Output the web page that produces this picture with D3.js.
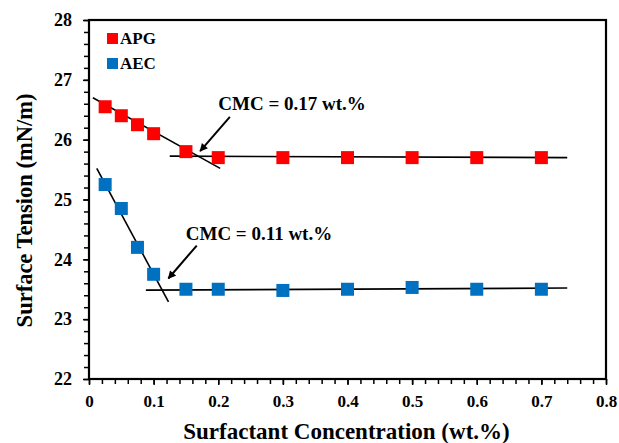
<!DOCTYPE html>
<html>
<head>
<meta charset="utf-8">
<script src="https://cdn.jsdelivr.net/npm/d3@7"></script>
<style>
  html, body { margin: 0; padding: 0; background: #fff; }
  svg { display: block; }
  text { font-family: "Liberation Serif", "Times New Roman", serif; font-weight: bold; fill: #000; }
</style>
</head>
<body>
<svg id="chart" width="619" height="443"></svg>
<script>
// Surfactant concentrations (wt.%)
const concentrations = [0.025, 0.05, 0.075, 0.1, 0.15, 0.2, 0.3, 0.4, 0.5, 0.6, 0.7];
// Surface tension (mN/m) for each surfactant
const apgValues = [26.55, 26.4, 26.25, 26.1, 25.8, 25.7, 25.7, 25.7, 25.7, 25.7, 25.7];
const aecValues = [25.25, 24.85, 24.2, 23.75, 23.5, 23.5, 23.48, 23.5, 23.53, 23.5, 23.5];
const seriesNames = ["APG", "AEC"];
const seriesColors = ["#ff0000", "#0070c0"];

// Fitted lines used to locate the CMC (pairs of [x, y] end points)
const apgSteepFit = [[0.006, 26.70], [0.203, 25.52]];
const apgFlatFit = [[0.125, 25.725], [0.74, 25.70]];
const aecSteepFit = [[0.012, 25.52], [0.123, 23.29]];
const aecFlatFit = [[0.088, 23.485], [0.74, 23.52]];

// CMC annotations: label, label anchor, arrow start, arrow tip
const cmcLabels = ["CMC = 0.17 wt.%", "CMC = 0.11 wt.%"];
const cmcLabelPos = [[0.2, 26.5], [0.1497, 24.33]];
const cmcArrowFrom = [[0.218, 26.38], [0.1667, 24.23]];
const cmcArrowTo = [[0.172, 25.81], [0.1228, 23.68]];

const xTicks = [0, 0.1, 0.2, 0.3, 0.4, 0.5, 0.6, 0.7, 0.8];
const yTicks = [22, 23, 24, 25, 26, 27, 28];

const svg = d3.select("#chart");
const margin = { left: 89, top: 20, right: 13, bottom: 64 };
const W = 619, H = 443;

const x = d3.scaleLinear().domain([0, 0.8]).range([margin.left, W - margin.right]);
const y = d3.scaleLinear().domain([22, 28]).range([H - margin.bottom, margin.top]);

// arrow marker
svg.append("defs").append("marker")
  .attr("id", "arrowhead")
  .attr("viewBox", "0 0 10 10")
  .attr("refX", 9).attr("refY", 5)
  .attr("markerWidth", 10).attr("markerHeight", 8)
  .attr("markerUnits", "userSpaceOnUse")
  .attr("orient", "auto")
  .append("path").attr("d", "M0,0 L10,5 L0,10 Z").attr("fill", "#000");

// minor ticks
const xMinor = d3.range(0, 0.8001, 0.02);
const yMinor = d3.range(22, 28.001, 0.2);

const xAxis = svg.append("g").attr("transform", `translate(0,${y(22)})`)
  .call(d3.axisBottom(x).tickValues(xMinor).tickSize(5).tickFormat(""));
xAxis.select(".domain").remove();
xAxis.selectAll("line").attr("stroke", "#000").attr("stroke-width", 1.5);

const xMajor = svg.append("g").attr("transform", `translate(0,${y(22)})`)
  .call(d3.axisBottom(x).tickValues(xTicks).tickSize(6).tickPadding(10).tickFormat(d => d === 0 ? "0" : d3.format(".1f")(d)));
xMajor.select(".domain").remove();
xMajor.selectAll("line").attr("stroke", "#000").attr("stroke-width", 1.5);
xMajor.selectAll("text").style("font-size", "17px").style("font-family", "'Liberation Serif', serif").style("font-weight", "bold").attr("fill", "#000");

const yAxis = svg.append("g").attr("transform", `translate(${x(0)},0)`)
  .call(d3.axisLeft(y).tickValues(yMinor).tickSize(5).tickFormat(""));
yAxis.select(".domain").remove();
yAxis.selectAll("line").attr("stroke", "#000").attr("stroke-width", 1.5);

const yMajor = svg.append("g").attr("transform", `translate(${x(0)},0)`)
  .call(d3.axisLeft(y).tickValues(yTicks).tickSize(6).tickPadding(11).tickFormat(d3.format("d")));
yMajor.select(".domain").remove();
yMajor.selectAll("line").attr("stroke", "#000").attr("stroke-width", 1.5);
yMajor.selectAll("text").style("font-size", "18px").style("font-family", "'Liberation Serif', serif").style("font-weight", "bold").attr("fill", "#000");

// plot frame
svg.append("rect")
  .attr("x", x(0)).attr("y", y(28))
  .attr("width", x(0.8) - x(0)).attr("height", y(22) - y(28))
  .attr("fill", "none").attr("stroke", "#000").attr("stroke-width", 2.2);

// fit lines
const line = d3.line().x(d => x(d[0])).y(d => y(d[1]));
[apgSteepFit, apgFlatFit, aecSteepFit, aecFlatFit].forEach(seg => {
  svg.append("path").attr("d", line(seg)).attr("fill", "none")
    .attr("stroke", "#000").attr("stroke-width", 1.6);
});

// data markers
const ms = 13;
[apgValues, aecValues].forEach((vals, i) => {
  svg.append("g").selectAll("rect").data(vals).join("rect")
    .attr("x", (d, j) => x(concentrations[j]) - ms / 2)
    .attr("y", d => y(d) - ms / 2)
    .attr("width", ms).attr("height", ms)
    .attr("fill", seriesColors[i]);
});

// CMC annotations
cmcLabels.forEach((t, i) => {
  svg.append("text").attr("x", x(cmcLabelPos[i][0])).attr("y", y(cmcLabelPos[i][1]))
    .style("font-size", "19px").text(t);
  svg.append("line")
    .attr("x1", x(cmcArrowFrom[i][0])).attr("y1", y(cmcArrowFrom[i][1]))
    .attr("x2", x(cmcArrowTo[i][0])).attr("y2", y(cmcArrowTo[i][1]))
    .attr("stroke", "#000").attr("stroke-width", 2)
    .attr("marker-end", "url(#arrowhead)");
});

// legend
const legend = svg.append("g").attr("transform", "translate(107,32)");
seriesNames.forEach((n, i) => {
  const g = legend.append("g").attr("transform", `translate(0,${i * 25})`);
  g.append("rect").attr("y", 1).attr("width", 11).attr("height", 11).attr("fill", seriesColors[i]);
  g.append("text").attr("x", 13).attr("y", 11.5).style("font-size", "17px").text(n);
});

// axis titles
svg.append("text").attr("x", (x(0) + x(0.8)) / 2 - 1).attr("y", 439)
  .attr("text-anchor", "middle").style("font-size", "23px")
  .text("Surfactant Concentration (wt.%)");
svg.append("text")
  .attr("transform", `translate(32,${(y(22) + y(28)) / 2 + 11}) rotate(-90)`)
  .attr("text-anchor", "middle").style("font-size", "22.5px")
  .text("Surface Tension (mN/m)");
</script>
</body>
</html>
